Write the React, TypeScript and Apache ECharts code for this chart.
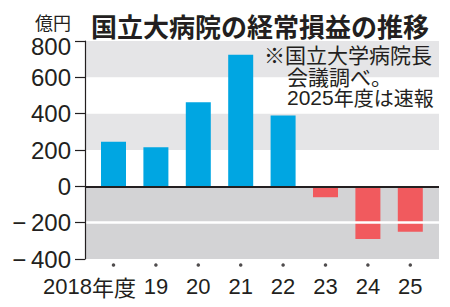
import React, { useEffect, useRef } from "react";
import * as echarts from "echarts";

// Fiscal years and ordinary profit/loss (億円)
const categories = ["2018年度", "19", "20", "21", "22", "23", "24", "25"];
const values = [245, 215, 463, 725, 390, -60, -290, -250];
const yMin = -400;
const yMax = 800;
const yStep = 200;

const titleText = "国立大病院の経常損益の推移";
const unitText = "億円";
const noteLines = ["※国立大学病院長", "会議調べ。", "2025年度は速報"];

const INK = "#231f20";
const BLUE = "#00a6e2";
const RED = "#f15a5e";
const BAND_LIGHT = "#e5e5e7";
const BAND_DARK = "#d3d3d5";
const NUM_FONT = "'Liberation Sans', Arial, sans-serif";
const JP_FONT = "'Noto Sans CJK JP', sans-serif";

function splitDigits(s: string): [string, string] {
  const m = s.match(/^(\d*)(.*)$/);
  return m ? [m[1], m[2]] : [s, ""];
}

export default function App() {
  const ref = useRef<HTMLDivElement>(null);

  useEffect(() => {
    if (!ref.current) return;
    document.body.style.margin = "0";
    const chart = echarts.init(ref.current, undefined, { renderer: "svg" });

    const [noteNum, noteRest] = splitDigits(noteLines[2]);

    const option: any = {
      animation: false,
      backgroundColor: "#ffffff",
      grid: [
        { left: 85, right: 11, top: 41, height: 218, containLabel: false, outerBoundsMode: "none" },
        { left: 92.3, right: 18.5, top: 41, height: 218, containLabel: false, outerBoundsMode: "none" },
      ],
      xAxis: [
        { type: "value", gridIndex: 0, min: 0, max: 1, show: false },
        {
          type: "category",
          gridIndex: 1,
          data: categories,
          position: "bottom",
          offset: 4,
          axisLine: { show: false, onZero: false },
          axisTick: { show: false },
          axisLabel: {
            margin: 12,
            interval: 0,
            color: INK,
            formatter: (v: string, i: number) => {
              const [num, rest] = splitDigits(v);
              if (!rest) return `{n|${num}}`;
              return i === 0 ? `{n|${num}}{k0|${rest}}` : `{n|${num}}{k|${rest}}`;
            },
            rich: {
              n: { fontFamily: NUM_FONT, fontSize: 22, color: INK },
              k: { fontFamily: JP_FONT, fontSize: 22, color: INK },
              k0: { fontFamily: JP_FONT, fontSize: 22, color: INK, padding: [0, 48, 0, 0] },
            },
          },
        },
      ],
      yAxis: [
        {
          type: "value",
          gridIndex: 0,
          min: yMin,
          max: yMax,
          interval: yStep,
          z: 10,
          axisLine: { show: true, lineStyle: { color: INK, width: 1.2 } },
          axisTick: { show: true, length: 10, lineStyle: { color: INK, width: 1.2 } },
          splitLine: { show: false },
          axisLabel: {
            margin: 14,
            color: INK,
            fontFamily: NUM_FONT,
            fontSize: 24,
            formatter: (v: number) => {
              if (v === yMax) return `{t|${v}}`;
              return v < 0 ? `−\u2009${-v}` : `${v}`;
            },
            rich: {
              t: { fontFamily: NUM_FONT, fontSize: 24, color: INK, padding: [10, 0, 0, 0] },
            },
          },
        },
        { type: "value", gridIndex: 1, min: yMin, max: yMax, interval: yStep, show: false },
      ],
      series: [
        {
          // background bands
          type: "line",
          xAxisIndex: 0,
          yAxisIndex: 0,
          data: [],
          silent: true,
          z: 1,
          markArea: {
            silent: true,
            label: { show: false },
            data: [
              [{ yAxis: 600, itemStyle: { color: BAND_LIGHT } }, { yAxis: 800 }],
              [{ yAxis: 200, itemStyle: { color: BAND_LIGHT } }, { yAxis: 400 }],
              [{ yAxis: -200, itemStyle: { color: BAND_DARK } }, { yAxis: 0 }],
              [{ yAxis: -400, itemStyle: { color: BAND_DARK } }, { yAxis: -200 }],
            ],
          },
          markLine: {
            silent: true,
            symbol: "none",
            label: { show: false },
            lineStyle: { color: "#ffffff", width: 2.5, type: "solid" },
            data: [{ yAxis: -200 }],
          },
        },
        {
          type: "bar",
          xAxisIndex: 1,
          yAxisIndex: 1,
          barWidth: 25,
          z: 2,
          data: values.map((v) => ({
            value: v,
            itemStyle: { color: v >= 0 ? BLUE : RED },
          })),
        },
        {
          // small dot marker under each year
          type: "scatter",
          xAxisIndex: 1,
          yAxisIndex: 1,
          silent: true,
          clip: false,
          z: 4,
          symbol: "circle",
          symbolSize: 3.5,
          symbolOffset: [0, 6],
          itemStyle: { color: INK },
          data: categories.map((c) => [c, yMin]),
        },
        {
          // zero baseline
          type: "line",
          xAxisIndex: 0,
          yAxisIndex: 0,
          data: [],
          silent: true,
          z: 3,
          markLine: {
            silent: true,
            symbol: "none",
            label: { show: false },
            lineStyle: { color: INK, width: 2, type: "solid" },
            data: [{ yAxis: 0 }],
          },
        },
      ],
      graphic: [
        {
          type: "text",
          left: 35,
          top: 12,
          z: 100,
          style: { text: unitText, font: `18px ${JP_FONT}`, fill: INK, lineHeight: 20 },
        },
        {
          type: "text",
          left: 91,
          top: 11,
          z: 100,
          style: { text: titleText, font: `bold 26px ${JP_FONT}`, fill: INK, lineHeight: 28 },
        },
        {
          type: "text",
          left: 264,
          top: 43,
          z: 100,
          style: { text: noteLines[0], font: `21px ${JP_FONT}`, fill: INK, lineHeight: 21 },
        },
        {
          type: "text",
          left: 287,
          top: 65,
          z: 100,
          style: { text: noteLines[1], font: `21px ${JP_FONT}`, fill: INK, lineHeight: 21 },
        },
        {
          type: "text",
          left: 287,
          top: 87,
          z: 100,
          style: {
            text: `{n|${noteNum}}{k|${noteRest}}`,
            rich: {
              n: { fontFamily: NUM_FONT, fontSize: 21, fill: INK, lineHeight: 21 },
              k: { fontFamily: JP_FONT, fontSize: 20, fill: INK, lineHeight: 21 },
            },
          },
        },
      ],
    };

    chart.setOption(option);
    return () => chart.dispose();
  }, []);

  return <div ref={ref} style={{ width: 450, height: 307 }} />;
}
